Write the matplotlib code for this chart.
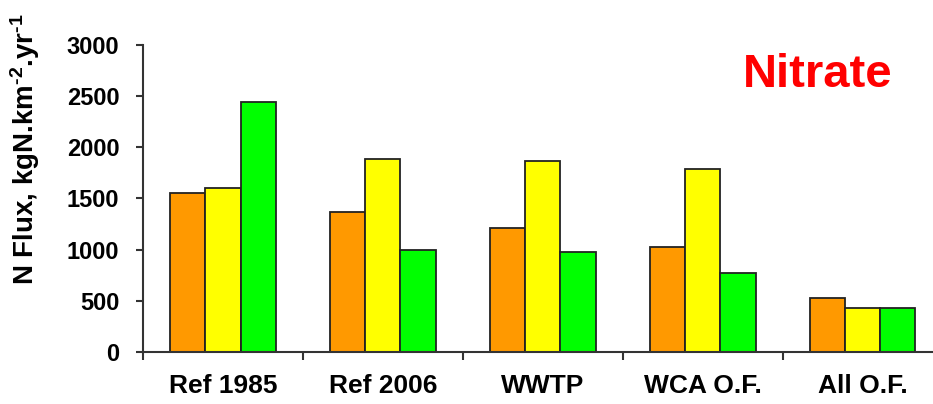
import matplotlib.pyplot as plt
import numpy as np

plt.rcParams['font.family'] = ['Liberation Sans', 'DejaVu Sans']
plt.rcParams['font.weight'] = 'bold'
plt.rcParams['mathtext.fontset'] = 'custom'
plt.rcParams['mathtext.rm'] = 'Liberation Sans:bold'
plt.rcParams['mathtext.bf'] = 'Liberation Sans:bold'
plt.rcParams['mathtext.default'] = 'bf'

categories = ['Ref 1985', 'Ref 2006', 'WWTP', 'WCA O.F.', 'All O.F.']
orange_vals = [1557, 1371, 1215, 1029, 531]
yellow_vals = [1600, 1886, 1870, 1786, 433]
green_vals = [2444, 1000, 975, 772, 433]
y_ticks = [0, 500, 1000, 1500, 2000, 2500, 3000]

fig = plt.figure(figsize=(9.33, 4.04), dpi=100)
ax = fig.add_axes([0.1533, 0.1287, 0.857, 0.76])

x = np.arange(len(categories))
w = 0.22
series = [(orange_vals, '#FF9900'), (yellow_vals, '#FFFF00'), (green_vals, '#00FF00')]
for i, (vals, col) in enumerate(series):
    ax.bar(x + (i - 1) * w, vals, w, color=col, edgecolor='#222222', linewidth=1.3, zorder=2)

ax.set_xlim(-0.5, 4.5)
ax.set_ylim(0, 3000)
ax.set_yticks(y_ticks)
ax.set_yticklabels([str(t) for t in y_ticks], fontsize=17, fontweight='bold')
ax.set_xticks(x)
ax.set_xticklabels(categories, fontsize=19, fontweight='bold')
ax.set_xticks(np.arange(-0.5, 4.5, 1.0), minor=True)
ax.tick_params(axis='x', which='major', length=0, pad=16)
ax.tick_params(axis='x', which='minor', length=6, width=1.5, color='#333333', direction='out')
ax.tick_params(axis='y', length=5, width=1.5, color='#333333', pad=12)

for s in ['top', 'right']:
    ax.spines[s].set_visible(False)
for s in ['left', 'bottom']:
    ax.spines[s].set_linewidth(1.5)
    ax.spines[s].set_color('#333333')

ax.set_ylabel('N Flux, kgN.km$^{\\text{-2}}$.yr$^{\\text{-1}}$', fontsize=20, fontweight='bold')
ax.yaxis.set_label_coords(-0.126, 0.662)

fig.text(0.876, 0.815, 'Nitrate', color='#FF0000', fontsize=34, fontweight='bold', ha='center', va='center')

fig.savefig('out.png', dpi=100)
